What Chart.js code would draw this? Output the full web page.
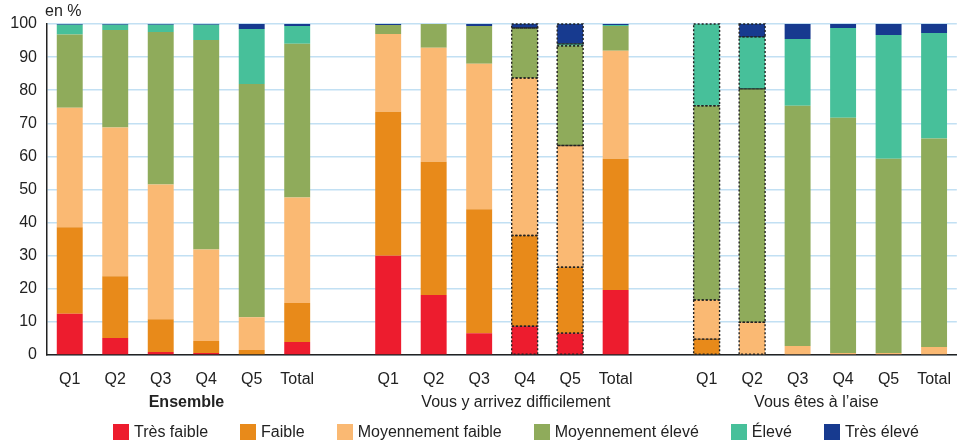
<!DOCTYPE html>
<html>
<head>
<meta charset="utf-8">
<script src="https://cdn.jsdelivr.net/npm/chart.js@4.4.1/dist/chart.umd.min.js"></script>
<style>
  body { margin: 0; background: #fff; }
  #wrap { position: relative; width: 966px; height: 442px; }
  #legend { position: absolute; left: 57px; width: 918px; top: 423px; display: flex; justify-content: center;
            white-space: nowrap; line-height: 18px;
            font: 16px 'Liberation Sans', Arial, sans-serif; color: #222; }
  #legend span.item { display: flex; align-items: center; margin: 0 16px; }
  #legend span.box { width: 16px; height: 16px; margin-right: 5px; display: inline-block; }
</style>
</head>
<body>
<div id="wrap">
  <canvas id="chart" width="966" height="442"></canvas>
  <div id="legend"></div>
</div>
<script>
const FONT = "'Liberation Sans', Arial, sans-serif";

// 3 groups of 6 bars, one empty slot between groups
const categories = ['Q1','Q2','Q3','Q4','Q5','Total','',
                    'Q1','Q2','Q3','Q4','Q5','Total','',
                    'Q1','Q2','Q3','Q4','Q5','Total'];
const groups = ['Ensemble', 'Vous y arrivez difficilement', 'Vous êtes à l\u2019aise'];
const groupShift = [3, 14, -4];
const yTicks = [0,10,20,30,40,50,60,70,80,90,100];

const tresFaible    = [12.5, 5.1, 0.9, 0.6, 0,   3.9, null, 30.0, 18.1, 6.6, 8.7, 6.6, 19.6, null, 0,    0,    0,    0,    0,    0];
const faible        = [26.1, 18.7, 9.9, 3.6, 1.5, 11.8, null, 43.5, 40.3, 37.4, 27.4, 19.9, 39.7, null, 4.8, 0,    0,    0,    0,    0];
const moyFaible     = [36.1, 44.9, 40.7, 27.7, 9.9, 31.9, null, 23.5, 34.4, 44.0, 47.6, 36.8, 32.6, null, 11.8, 9.9, 2.7,  0.6,  0.6,  2.4];
const moyEleve      = [22.1, 29.5, 46.1, 63.3, 70.5, 46.4, null, 2.7, 7.2, 11.4, 15.1, 30.1, 7.5, null, 58.7, 70.5, 72.6, 71.1, 58.7, 63.0];
const eleve         = [3.0,  1.6,  2.2,  4.6, 16.6, 5.4, null, 0,   0,   0,    0,    0.6,  0.3, null, 24.7, 15.7, 20.2, 27.1, 37.4, 31.9];
const tresEleve     = [0.2,  0.2,  0.2,  0.2, 1.5,  0.6, null, 0.3, 0,   0.6,  1.2,  6.0,  0.3, null, 0,    3.9,  4.5,  1.2,  3.3,  2.7];

const seriesNames  = ['Très faible', 'Faible', 'Moyennement faible', 'Moyennement élevé', 'Élevé', 'Très élevé'];
const seriesColors = ['#ED1C2E', '#E88A1A', '#FAB973', '#8FAB5B', '#47C09A', '#173A8F'];
const seriesData   = [tresFaible, faible, moyFaible, moyEleve, eleve, tresEleve];

// bars drawn with a dotted outline
const dottedBars = [10, 11, 14, 15];

const groupLabels = {
  id: 'groupLabels',
  afterDraw(chart) {
    const x = chart.scales.x, ctx = chart.ctx;
    ctx.save();
    ctx.fillStyle = '#222';
    ctx.textAlign = 'center';
    ctx.textBaseline = 'middle';
    groups.forEach((g, k) => {
      const cx = (x.getPixelForValue(k * 7) + x.getPixelForValue(k * 7 + 5)) / 2 + groupShift[k];
      ctx.font = (k === 0 ? 'bold ' : '') + '16px ' + FONT;
      ctx.fillText(g, cx, x.top + 48);
    });
    ctx.font = '16px ' + FONT;
    ctx.textAlign = 'left';
    ctx.fillText('en %', chart.chartArea.left - 2, 12);
    ctx.restore();
  }
};

const dottedOutline = {
  id: 'dottedOutline',
  afterDatasetsDraw(chart) {
    const ctx = chart.ctx;
    ctx.save();
    ctx.setLineDash([2, 2]);
    ctx.lineWidth = 1.4;
    ctx.strokeStyle = '#222';
    chart.data.datasets.forEach((ds, di) => {
      const meta = chart.getDatasetMeta(di);
      dottedBars.forEach(i => {
        if (!ds.data[i]) return;
        const el = meta.data[i];
        const p = el.getProps(['x', 'y', 'base', 'width'], true);
        ctx.strokeRect(p.x - p.width / 2, p.y, p.width, p.base - p.y);
      });
    });
    ctx.restore();
  }
};

const datasets = seriesNames.map((name, i) => ({
  label: name,
  data: seriesData[i],
  backgroundColor: seriesColors[i],
  borderWidth: 0,
  barPercentage: 0.57,
  categoryPercentage: 1.0
}));

const chart = new Chart(document.getElementById('chart'), {
  type: 'bar',
  data: { labels: categories, datasets: datasets },
  plugins: [groupLabels, dottedOutline],
  options: {
    responsive: false,
    animation: false,
    layout: { padding: { top: 24, right: 1, bottom: 28, left: 0 } },
    plugins: { legend: { display: false }, tooltip: { enabled: false } },
    scales: {
      x: {
        stacked: true,
        grid: { display: false, drawTicks: false },
        border: { color: '#222', width: 1.5 },
        ticks: { color: '#222', font: { family: FONT, size: 16 }, padding: 15, maxRotation: 0, autoSkip: false },
        afterFit(s) { s.height = 59; }
      },
      y: {
        stacked: true,
        min: 0, max: 100,
        afterBuildTicks(s) { s.ticks = yTicks.map(v => ({ value: v })); },
        grid: { color: '#c2e0f3', lineWidth: 1.5, drawTicks: false },
        border: { color: '#222', width: 1.5 },
        ticks: { color: '#222', font: { family: FONT, size: 16 }, padding: 10 },
        afterFit(s) { s.width = 47; }
      }
    }
  }
});

const legend = document.getElementById('legend');
seriesNames.forEach((name, i) => {
  const item = document.createElement('span');
  item.className = 'item';
  const box = document.createElement('span');
  box.className = 'box';
  box.style.background = seriesColors[i];
  item.appendChild(box);
  item.appendChild(document.createTextNode(name));
  legend.appendChild(item);
});
</script>
</body>
</html>
